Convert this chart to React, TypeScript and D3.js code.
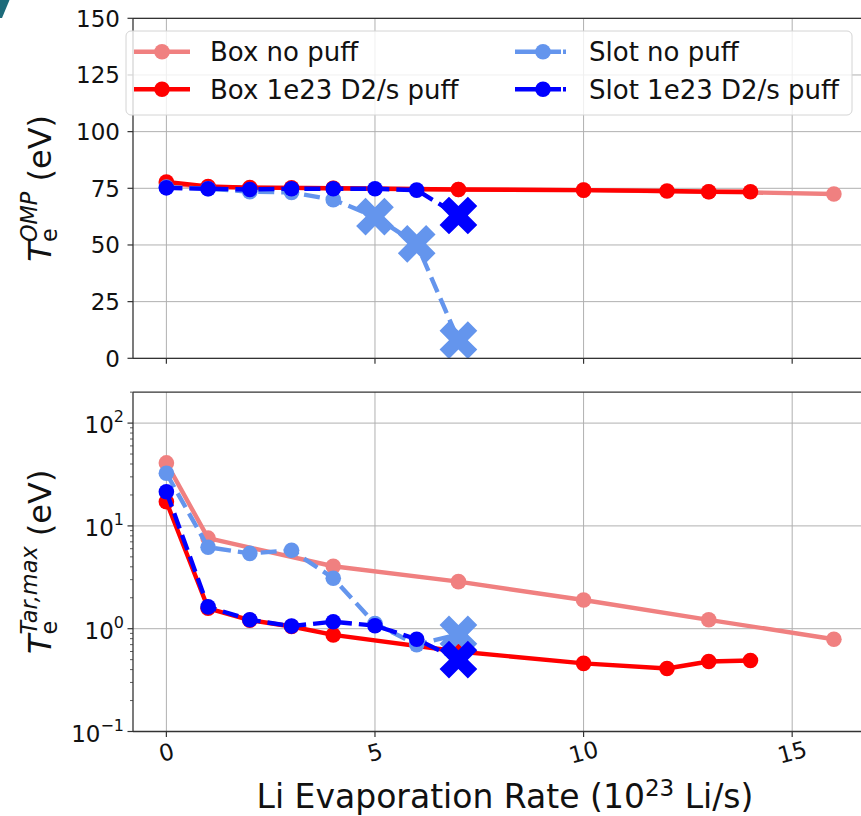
import React from "react";
import * as d3 from "d3";

// ---------- data ----------
const xTicks = [0, 5, 10, 15];
const topYTicks = [0, 25, 50, 75, 100, 125, 150];
const bottomYExps = [-1, 0, 1, 2];

const boxNoPuffX = [0, 1, 4, 7, 10, 13, 16];
const boxNoPuffOMP = [77, 75.5, 75, 74.5, 74.2, 73.5, 72.5];
const boxNoPuffTar = [41, 7.6, 4.05, 2.87, 1.9, 1.22, 0.79];

const boxPuffX = [0, 1, 2, 3, 4, 7, 10, 12, 13, 14];
const boxPuffOMP = [77.8, 75.8, 75.3, 75.2, 75, 74.5, 74.2, 73.8, 73.5, 73.5];
const boxPuffTar = [17.2, 1.58, 1.21, 1.05, 0.87, 0.6, 0.46, 0.41, 0.48, 0.49];

const slotNoPuffX = [0, 1, 2, 3, 4, 5, 6, 7];
const slotNoPuffOMP = [75.5, 74.8, 73.5, 73.2, 70, 62.5, 50.5, 8];
const slotNoPuffTar = [32.5, 6.2, 5.4, 5.8, 3.1, 1.12, 0.7, 0.88];
const slotNoPuffOMPMarkers = ["o", "o", "o", "o", "o", "X", "X", "X"];
const slotNoPuffTarMarkers = ["o", "o", "o", "o", "o", "o", "o", "X"];

const slotPuffX = [0, 1, 2, 3, 4, 5, 6, 7];
const slotPuffOMP = [75.2, 74.8, 74.5, 74.8, 74.8, 74.8, 74.2, 63];
const slotPuffTar = [21.5, 1.63, 1.22, 1.06, 1.17, 1.07, 0.79, 0.5];
const slotPuffOMPMarkers = ["o", "o", "o", "o", "o", "o", "o", "X"];
const slotPuffTarMarkers = ["o", "o", "o", "o", "o", "o", "o", "X"];

const legendLabels = ["Box no puff", "Box 1e23 D2/s puff", "Slot no puff", "Slot 1e23 D2/s puff"];
const colors = ["#F08080", "#FF0000", "#6495ED", "#0000FF"];

// ---------- layout ----------
const W = 861;
const H = 816;
const left = 133;
const FONT = "DejaVu Sans, sans-serif";
const TXT = "#111";

const x = d3.scaleLinear().domain([-0.8, 16.8]).range([left, left + 17.6 * 41.72]);
const yTop = d3.scaleLinear().domain([0, 150]).range([358.3, 18.3]);
const yBot = d3.scaleLog().domain([0.1, 200]).range([731.5, 731.5 - Math.log10(2000) * 102.8]);

const topPanel = { top: 18.3, bottom: 358.3 };
const botPanel = { top: yBot(200), bottom: 731.5 };
const rightEdge = x(16.8);

const LW = 4.4;
const R = 7.8;
const XS = 40;
const DASH = "16 7";

function xMarkerPath(s: number) {
  const L = s / 2;
  const w = s / 6;
  const pts = [
    [w, L], [w, w], [L, w], [L, -w], [w, -w], [w, -L],
    [-w, -L], [-w, -w], [-L, -w], [-L, w], [-w, w], [-w, L],
  ];
  return "M" + pts.map((p) => p.join(",")).join("L") + "Z";
}
const XPATH = xMarkerPath(XS);

type Series = {
  xs: number[];
  ys: number[];
  markers?: string[];
  color: string;
  dashed: boolean;
};

function SeriesMarks({ s, y }: { s: Series; y: (v: number) => number }) {
  const line = d3
    .line<number>()
    .x((_, i) => x(s.xs[i]))
    .y((v) => y(v));
  return (
    <g>
      <path
        d={line(s.ys) || ""}
        fill="none"
        stroke={s.color}
        strokeWidth={LW}
        strokeDasharray={s.dashed ? DASH : undefined}
        strokeLinejoin="round"
      />
      {s.ys.map((v, i) => {
        const m = s.markers ? s.markers[i] : "o";
        const cx = x(s.xs[i]);
        const cy = y(v);
        return m === "X" ? (
          <path key={i} d={XPATH} fill={s.color} transform={`translate(${cx},${cy}) rotate(45)`} />
        ) : (
          <circle key={i} cx={cx} cy={cy} r={R} fill={s.color} />
        );
      })}
    </g>
  );
}

function XGrid({ top, bottom }: { top: number; bottom: number }) {
  return (
    <g>
      {xTicks.map((t) => (
        <line key={t} x1={x(t)} x2={x(t)} y1={top} y2={bottom} stroke="#b0b0b0" strokeWidth={1} />
      ))}
      {xTicks.map((t) => (
        <line key={"t" + t} x1={x(t)} x2={x(t)} y1={bottom} y2={bottom + 5.5} stroke="#333" strokeWidth={1.2} />
      ))}
    </g>
  );
}

function YLabel({ cy, sup }: { cy: number; sup: string }) {
  const f = 32;
  const s = f * 0.7;
  return (
    <text
      transform={`translate(51,${cy}) rotate(-90)`}
      textAnchor="middle"
      fontFamily={FONT}
      fontSize={f}
      fill={TXT}
    >
      <tspan fontStyle="italic">T</tspan>
      <tspan fontSize={s} dy={6}>e</tspan>
      <tspan fontSize={s} fontStyle="italic" dx={-s * 0.615} dy={-20}>
        {sup}
      </tspan>
      <tspan dy={14}>{"\u00a0(eV)"}</tspan>
    </text>
  );
}

export default function App() {
  const topSeries: Series[] = [
    { xs: boxNoPuffX, ys: boxNoPuffOMP, color: colors[0], dashed: false },
    { xs: boxPuffX, ys: boxPuffOMP, color: colors[1], dashed: false },
    { xs: slotNoPuffX, ys: slotNoPuffOMP, markers: slotNoPuffOMPMarkers, color: colors[2], dashed: true },
    { xs: slotPuffX, ys: slotPuffOMP, markers: slotPuffOMPMarkers, color: colors[3], dashed: true },
  ];
  const botSeries: Series[] = [
    { xs: boxNoPuffX, ys: boxNoPuffTar, color: colors[0], dashed: false },
    { xs: boxPuffX, ys: boxPuffTar, color: colors[1], dashed: false },
    { xs: slotNoPuffX, ys: slotNoPuffTar, markers: slotNoPuffTarMarkers, color: colors[2], dashed: true },
    { xs: slotPuffX, ys: slotPuffTar, markers: slotPuffTarMarkers, color: colors[3], dashed: true },
  ];

  const minorTicks: number[] = [];
  for (let e = -1; e <= 2; e++) {
    for (let m = 2; m <= 9; m++) {
      const v = m * Math.pow(10, e);
      if (v <= 200) minorTicks.push(v);
    }
  }

  const legendRows = [51.7, 89.3];
  const legendCols = [
    { h0: 134, h1: 190, mx: 162, tx: 210 },
    { h0: 515, h1: 566, mx: 543, tx: 589 },
  ];

  return (
    <svg width={W} height={H} style={{ position: "absolute", left: 0, top: 0, background: "#fff" }}>
      <rect x={0} y={0} width={W} height={H} fill="#fff" />
      <path d="M0,0 L9.5,0 L2,18 L0,18 Z" fill="#1d6b7a" />

      {/* ---------- top panel ---------- */}
      <g>
        {topYTicks.map((t) => (
          <line key={t} x1={left} x2={rightEdge} y1={yTop(t)} y2={yTop(t)} stroke="#b0b0b0" strokeWidth={1} />
        ))}
        <XGrid top={topPanel.top} bottom={topPanel.bottom} />
        <clipPath id="clipTop">
          <rect x={left} y={topPanel.top} width={rightEdge - left} height={topPanel.bottom - topPanel.top} />
        </clipPath>
        <g clipPath="url(#clipTop)">
          {topSeries.map((s, i) => (
            <SeriesMarks key={i} s={s} y={yTop} />
          ))}
        </g>
        <line x1={left} x2={rightEdge} y1={topPanel.top} y2={topPanel.top} stroke="#333" strokeWidth={1.3} />
        <line x1={left} x2={rightEdge} y1={topPanel.bottom} y2={topPanel.bottom} stroke="#333" strokeWidth={1.3} />
        <line x1={left} x2={left} y1={topPanel.top} y2={topPanel.bottom} stroke="#333" strokeWidth={1.3} />
        {topYTicks.map((t) => (
          <g key={t}>
            <line x1={left - 5.5} x2={left} y1={yTop(t)} y2={yTop(t)} stroke="#333" strokeWidth={1.2} />
            <text
              x={120}
              y={yTop(t)}
              dy="0.36em"
              textAnchor="end"
              fontFamily={FONT}
              fontSize={23}
              fill={TXT}
            >
              {t}
            </text>
          </g>
        ))}
        <YLabel cy={(topPanel.top + topPanel.bottom) / 2} sup="OMP" />

        {/* legend */}
        <rect x={126} y={31} width={726} height={84} rx={5} fill="#fff" fillOpacity={0.8} stroke="#d4d4d4" strokeWidth={1} />
        {legendLabels.map((lab, i) => {
          const col = legendCols[Math.floor(i / 2)];
          const ry = legendRows[i % 2];
          const dashed = i >= 2;
          return (
            <g key={lab}>
              <line
                x1={col.h0}
                x2={col.h1}
                y1={ry}
                y2={ry}
                stroke={colors[i]}
                strokeWidth={LW}
                strokeDasharray={dashed ? "22 2" : undefined}
              />
              <circle cx={col.mx} cy={ry} r={R} fill={colors[i]} />
              <text x={col.tx} y={ry} dy="0.36em" fontFamily={FONT} fontSize={26} fill={TXT}>
                {lab}
              </text>
            </g>
          );
        })}
      </g>

      {/* ---------- bottom panel ---------- */}
      <g>
        {bottomYExps.map((e) => (
          <line
            key={e}
            x1={left}
            x2={rightEdge}
            y1={yBot(Math.pow(10, e))}
            y2={yBot(Math.pow(10, e))}
            stroke="#b0b0b0"
            strokeWidth={1}
          />
        ))}
        <XGrid top={botPanel.top} bottom={botPanel.bottom} />
        <clipPath id="clipBot">
          <rect x={left} y={botPanel.top} width={rightEdge - left} height={botPanel.bottom - botPanel.top} />
        </clipPath>
        <g clipPath="url(#clipBot)">
          {botSeries.map((s, i) => (
            <SeriesMarks key={i} s={s} y={(v) => yBot(v)} />
          ))}
        </g>
        <line x1={left} x2={rightEdge} y1={botPanel.top} y2={botPanel.top} stroke="#333" strokeWidth={1.3} />
        <line x1={left} x2={rightEdge} y1={botPanel.bottom} y2={botPanel.bottom} stroke="#333" strokeWidth={1.3} />
        <line x1={left} x2={left} y1={botPanel.top} y2={botPanel.bottom} stroke="#333" strokeWidth={1.3} />
        {minorTicks.map((v) => (
          <line key={v} x1={left - 3} x2={left} y1={yBot(v)} y2={yBot(v)} stroke="#333" strokeWidth={0.8} />
        ))}
        {bottomYExps.map((e) => {
          const yy = yBot(Math.pow(10, e));
          return (
            <g key={e}>
              <line x1={left - 5.5} x2={left} y1={yy} y2={yy} stroke="#333" strokeWidth={1.2} />
              <text x={124} y={yy + 10} textAnchor="end" fontFamily={FONT} fontSize={23} fill={TXT}>
                <tspan>10</tspan>
                <tspan fontSize={16} dy={-11}>
                  {e < 0 ? "\u2212" + Math.abs(e) : String(e)}
                </tspan>
              </text>
            </g>
          );
        })}
        {xTicks.map((t) => (
          <text
            key={t}
            x={x(t)}
            y={752}
            dy="0.36em"
            textAnchor="middle"
            fontFamily={FONT}
            fontSize={23}
            fill={TXT}
            transform={`rotate(-15,${x(t)},752)`}
          >
            {t}
          </text>
        ))}
        <YLabel cy={(botPanel.top + botPanel.bottom) / 2} sup="Tar,max" />
        <text x={505} y={808} textAnchor="middle" fontFamily={FONT} fontSize={33} fill={TXT}>
          <tspan>Li Evaporation Rate (10</tspan>
          <tspan fontSize={23} dy={-12}>23</tspan>
          <tspan dy={12}>{"\u00a0Li/s)"}</tspan>
        </text>
      </g>
    </svg>
  );
}
